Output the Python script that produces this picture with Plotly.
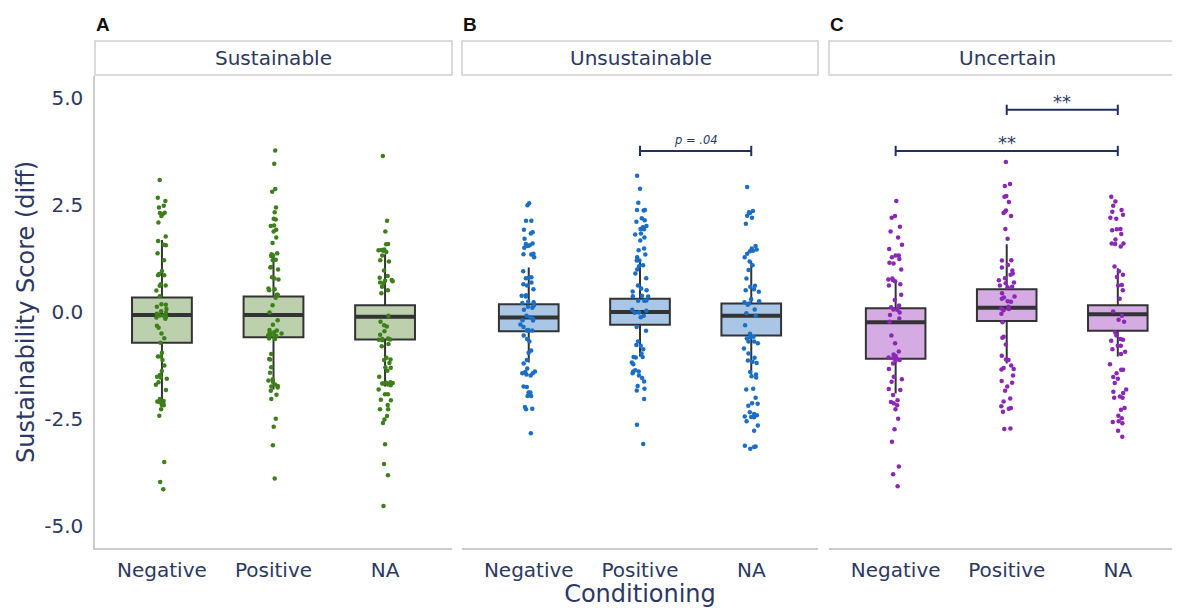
import plotly.graph_objects as go

# ---------------- data ----------------
categories = ["Negative", "Positive", "NA"]
panels = ["Sustainable", "Unsustainable", "Uncertain"]
panel_tags = ["A", "B", "C"]

sus_neg = [3.08, 2.67, 2.59, 2.48, 2.44, 2.32, 2.31, 2.28, 2.24, 2.09, 1.76, 1.66, 1.57, 1.56, 1.37, 1.21,
           0.96, 0.89, 0.86, 0.86, 0.65, 0.62, 0.61, 0.50, 0.37, 0.17, 0.18, 0.12, 0.07, 0.02, -0.02, -0.04,
           -0.08, -0.09, -0.11, -0.13, -0.16, -0.32, -0.37, -0.50, -0.61, -0.72, -0.95, -1.04, -1.04, -1.12,
           -1.25, -1.38, -1.47, -1.51, -1.53, -1.56, -1.64, -1.70, -1.82, -2.03, -2.09, -2.13, -2.08, -2.11,
           -2.17, -2.18, -2.27, -2.42, -3.50, -3.97, -4.14]
sus_pos = [3.77, 3.46, 2.87, 2.81, 2.44, 2.33, 2.18, 2.16, 2.02, 2.01, 1.92, 1.88, 1.74, 1.61, 1.37, 1.35,
           1.31, 1.32, 1.22, 1.21, 1.05, 1.04, 0.99, 0.81, 0.78, 0.76, 0.55, 0.53, 0.51, 0.40, 0.40, 0.33,
           0.16, -0.01, -0.19, -0.30, -0.42, -0.43, -0.47, -0.47, -0.50, -0.52, -0.54, -0.56, -0.56, -0.58,
           -0.62, -0.63, -0.98, -1.10, -1.11, -1.29, -1.42, -1.57, -1.60, -1.63, -1.69, -1.73, -1.74, -1.76,
           -1.84, -1.93, -2.03, -2.49, -2.68, -3.11, -3.89]
sus_na = [3.64, 2.13, 1.88, 1.59, 1.58, 1.46, 1.45, 1.44, 1.43, 1.40, 1.32, 1.21, 1.18, 0.97, 0.84, 0.80,
          0.75, 0.73, 0.72, 0.69, 0.67, 0.59, 0.51, 0.44, -0.09, -0.23, -0.31, -0.34, -0.45, -0.53, -0.62,
          -0.63, -0.64, -0.65, -0.66, -0.75, -0.80, -1.07, -1.11, -1.12, -1.19, -1.29, -1.30, -1.37, -1.51,
          -1.64, -1.65, -1.66, -1.67, -1.67, -1.69, -1.71, -1.81, -1.92, -1.92, -2.05, -2.06, -2.17, -2.27,
          -2.27, -2.43, -2.51, -2.59, -3.09, -3.55, -3.81, -4.53]

uns_neg = [2.54, 2.49, 2.13, 2.13, 1.92, 1.86, 1.83, 1.71, 1.60, 1.59, 1.56, 1.54, 1.50, 1.36, 1.35, 1.34,
           1.28, 0.95, 0.81, 0.80, 0.79, 0.69, 0.65, 0.62, 0.53, 0.39, 0.38, 0.36, 0.24, 0.23, 0.21, 0.15,
           0.12, 0.10, 0.05, -0.09, -0.12, -0.16, -0.19, -0.20, -0.29, -0.35, -0.42, -0.43, -0.43, -0.44,
           -0.55, -0.63, -0.69, -0.90, -0.95, -1.12, -1.20, -1.32, -1.39, -1.40, -1.43, -1.43, -1.46, -1.48,
           -1.74, -1.75, -1.88, -1.88, -1.96, -1.96, -2.22, -2.26, -2.27, -2.83]
uns_pos = [3.18, 2.88, 2.55, 2.38, 2.38, 2.37, 2.19, 2.14, 2.11, 2.01, 1.98, 1.94, 1.93, 1.83, 1.81, 1.74,
           1.67, 1.48, 1.44, 1.34, 1.28, 1.20, 1.20, 1.09, 1.07, 0.99, 0.90, 0.79, 0.62, 0.55, 0.51, 0.48,
           0.38, 0.37, 0.36, 0.27, 0.26, 0.26, 0.05, 0.03, -0.01, -0.02, -0.09, -0.12, -0.35, -0.44, -0.69,
           -0.77, -0.79, -0.87, -0.97, -1.05, -1.05, -1.06, -1.18, -1.22, -1.36, -1.39, -1.39, -1.43, -1.48,
           -1.54, -1.62, -1.73, -1.79, -1.83, -2.03, -2.63, -3.08]
uns_na = [2.92, 2.36, 2.33, 2.31, 2.25, 2.20, 2.06, 1.54, 1.48, 1.46, 1.43, 1.42, 1.36, 1.28, 1.18, 1.09,
          0.98, 0.78, 0.61, 0.59, 0.53, 0.51, 0.47, 0.30, 0.25, 0.23, 0.20, 0.17, 0.06, -0.03, -0.09, -0.31,
          -0.51, -0.58, -0.59, -0.62, -0.69, -0.69, -0.73, -0.85, -0.97, -1.07, -1.13, -1.16, -1.19, -1.40,
          -1.46, -1.50, -1.53, -1.79, -1.81, -2.00, -2.13, -2.14, -2.19, -2.34, -2.38, -2.41, -2.44, -2.45,
          -2.46, -2.55, -2.65, -2.77, -3.12, -3.14, -3.15, -3.19]

unc_neg = [2.59, 2.24, 2.20, 1.99, 1.88, 1.74, 1.57, 1.47, 1.32, 1.32, 1.28, 1.24, 1.15, 1.13, 0.99, 0.78,
           0.76, 0.75, 0.72, 0.65, 0.62, 0.40, 0.28, 0.15, 0.11, 0.06, 0.05, -0.01, -0.07, -0.15, -0.23,
           -0.55, -0.73, -0.92, -0.99, -1.03, -1.06, -1.08, -1.09, -1.12, -1.14, -1.20, -1.33, -1.51, -1.57,
           -1.63, -1.80, -1.82, -1.94, -2.06, -2.10, -2.13, -2.18, -2.27, -2.49, -2.74, -3.03, -3.61, -3.79,
           -4.07]
unc_pos = [3.50, 2.99, 2.94, 2.71, 2.69, 2.57, 2.37, 2.34, 2.31, 2.24, 1.94, 1.71, 1.21, 1.20, 1.10, 1.04,
           0.97, 0.90, 0.87, 0.79, 0.74, 0.69, 0.67, 0.62, 0.59, 0.58, 0.44, 0.36, 0.34, 0.31, 0.25, 0.24,
           0.12, 0.08, 0.07, 0.04, -0.04, -0.24, -0.58, -0.60, -0.76, -1.02, -1.11, -1.12, -1.25, -1.31,
           -1.33, -1.34, -1.48, -1.61, -1.65, -1.74, -1.84, -2.02, -2.09, -2.20, -2.24, -2.26, -2.33, -2.72,
           -2.73]
unc_na = [2.69, 2.58, 2.48, 2.38, 2.34, 2.27, 2.20, 2.18, 1.94, 1.93, 1.91, 1.82, 1.69, 1.60, 1.60, 1.59,
          1.53, 1.06, 0.95, 0.87, 0.82, 0.63, 0.62, 0.51, 0.31, 0.01, -0.09, -0.18, -0.23, -0.48, -0.55,
          -0.63, -0.65, -0.67, -0.79, -0.79, -0.87, -0.93, -0.98, -1.22, -1.35, -1.35, -1.43, -1.52, -1.56,
          -1.66, -1.81, -1.86, -1.89, -1.97, -2.00, -2.00, -2.24, -2.28, -2.42, -2.48, -2.55, -2.57, -2.60,
          -2.77, -2.91]

points = [[sus_neg, sus_pos, sus_na], [uns_neg, uns_pos, uns_na], [unc_neg, unc_pos, unc_na]]

# box summary statistics: per panel, per category
box_q1 = [[-0.72, -0.59, -0.64], [-0.45, -0.30, -0.55], [-1.09, -0.21, -0.44]]
box_median = [[-0.07, -0.07, -0.11], [-0.13, 0.00, -0.09], [-0.24, 0.10, -0.05]]
box_q3 = [[0.34, 0.36, 0.16], [0.18, 0.31, 0.20], [0.09, 0.53, 0.16]]
box_low = [[-2.13, -1.81, -1.74], [-1.18, -1.04, -1.46], [-1.90, -1.20, -1.04]]
box_high = [[1.68, 1.33, 1.35], [1.04, 1.19, 1.19], [0.75, 1.58, 1.02]]

# significance comparisons: (panel index, group a, group b, y level, label)
comparisons = [
    (1, "Positive", "NA", 3.76, "p = .04"),
    (2, "Negative", "NA", 3.76, "**"),
    (2, "Positive", "NA", 4.72, "**"),
]

y_ticks = [5.0, 2.5, 0.0, -2.5, -5.0]
y_tick_text = ["5.0", "2.5", "0.0", "-2.5", "-5.0"]

# ---------------- styles ----------------
fills = ["#bdd0ae", "#a9c6e6", "#d4abe2"]
dots = ["#3d7f1a", "#1b6ec6", "#8b27b6"]
ink = "#2c3862"
font_family = "'DejaVu Sans', Verdana, sans-serif"

OFF = 8  # page body margin of the browser
W, H = 1180 - OFF, 608 - OFF
ml, mr, mt, mb = 95 - OFF, 0, 76 - OFF, 60
pw, ph = W - ml - mr, H - mt - mb
px_dom = [(95, 452), (462, 818), (829, 1180)]  # screen pixels
domains = [[(a - OFF - ml) / pw, min(1.0, (b - OFF - ml) / pw)] for a, b in px_dom]
x_ranges = [[-0.6, 2.6], [-0.6, 2.6], [-0.6, 2.56]]
y_range = [-5.51, 5.51]

pos = list(range(len(categories)))
fig = go.Figure()

for p in range(3):
    xa = "x" if p == 0 else f"x{p+1}"
    ya = "y" if p == 0 else f"y{p+1}"
    fig.add_trace(go.Box(
        x=pos, q1=box_q1[p], median=box_median[p], q3=box_q3[p],
        lowerfence=box_low[p], upperfence=box_high[p],
        boxpoints=False, fillcolor=fills[p],
        line=dict(color="#333333", width=2), whiskerwidth=0,
        xaxis=xa, yaxis=ya, showlegend=False, hoverinfo="skip"))
    fig.add_trace(go.Box(
        x=pos, q1=box_median[p], median=box_median[p], q3=box_median[p],
        lowerfence=box_median[p], upperfence=box_median[p],
        boxpoints=False, fillcolor="rgba(0,0,0,0)",
        line=dict(color="#333333", width=4), whiskerwidth=0,
        xaxis=xa, yaxis=ya, showlegend=False, hoverinfo="skip"))
    xs, ys = [], []
    for i, vals in enumerate(points[p]):
        xs += [pos[i]] * len(vals)
        ys += vals
    fig.add_trace(go.Box(
        x=xs, y=ys, boxpoints="all", jitter=0.3, pointpos=0,
        fillcolor="rgba(0,0,0,0)", line=dict(color="rgba(0,0,0,0)", width=0),
        marker=dict(color=dots[p], size=4.5, line=dict(width=0)),
        xaxis=xa, yaxis=ya, showlegend=False, hoverinfo="skip"))

tick_half = 0.12
for (p, ga, gb, yv, lab) in comparisons:
    xa = "x" if p == 0 else f"x{p+1}"
    ya = "y" if p == 0 else f"y{p+1}"
    x1, x2 = categories.index(ga), categories.index(gb)
    fig.add_trace(go.Scatter(
        x=[x1, x1, None, x1, x2, None, x2, x2],
        y=[yv - tick_half, yv + tick_half, None, yv, yv, None, yv - tick_half, yv + tick_half],
        mode="lines", line=dict(color="#22305e", width=2),
        xaxis=xa, yaxis=ya, showlegend=False, hoverinfo="skip"))
    is_p = lab.startswith("p")
    fig.add_annotation(
        x=(x1 + x2) / 2, y=yv, xref=xa, yref=ya, yanchor="bottom", yshift=2 if is_p else -4,
        text=f"<i>{lab}</i>" if is_p else lab, showarrow=False,
        font=dict(family=font_family, size=11.5 if is_p else 18, color=ink))

layout_axes = {}
for p in range(3):
    xkey = "xaxis" if p == 0 else f"xaxis{p+1}"
    ykey = "yaxis" if p == 0 else f"yaxis{p+1}"
    layout_axes[xkey] = dict(
        domain=domains[p], range=x_ranges[p], anchor="y" if p == 0 else f"y{p+1}",
        tickmode="array", tickvals=pos, ticktext=categories,
        showgrid=False, zeroline=False, showline=True, linecolor="#cccccc", linewidth=1.5,
        ticks="", tickfont=dict(family=font_family, size=20, color=ink), ticklabelstandoff=3)
    layout_axes[ykey] = dict(
        domain=[0, 1], range=y_range, anchor="x" if p == 0 else f"x{p+1}",
        matches=None if p == 0 else "y",
        tickmode="array", tickvals=y_ticks, ticktext=y_tick_text,
        showticklabels=(p == 0), showgrid=False, zeroline=False,
        showline=(p == 0), linecolor="#cccccc", linewidth=1.5, ticks="",
        tickfont=dict(family=font_family, size=20, color=ink), ticklabelstandoff=6)

layout_axes["yaxis"]["title"] = dict(text="Sustainability Score (diff)",
                                     font=dict(family=font_family, size=24, color=ink), standoff=3)
layout_axes["xaxis2"]["title"] = dict(text="Conditioning",
                                      font=dict(family=font_family, size=24, color=ink), standoff=0)

shapes = []
annotations = []
plot_bottom = H - mb  # in figure pixels


def paper_y(screen_y):
    return (plot_bottom - (screen_y - OFF)) / ph


strip_top = paper_y(41)
strip_bot = paper_y(75)
for p in range(3):
    d0, d1 = domains[p]
    full_w = (px_dom[0][1] - px_dom[0][0]) / pw
    shapes.append(dict(type="rect", xref="paper", yref="paper", x0=d0, x1=d1 if p < 2 else d0 + full_w,
                       y0=strip_bot, y1=strip_top, line=dict(color="#d0d0d0", width=1.5),
                       fillcolor="white", layer="below"))
    annotations.append(dict(x=d0 + full_w / 2, y=(strip_top + strip_bot) / 2, xref="paper", yref="paper",
                            text=panels[p], showarrow=False, xanchor="center", yanchor="middle",
                            font=dict(family=font_family, size=20, color=ink)))
    annotations.append(dict(x=d0, y=paper_y(24), xref="paper", yref="paper",
                            text=f"<b>{panel_tags[p]}</b>", showarrow=False, xanchor="left",
                            yanchor="middle", xshift=-1,
                            font=dict(family="Liberation Sans, Arial, sans-serif", size=19, color="#111111")))

fig.update_layout(
    width=W, height=H, margin=dict(l=ml, r=mr, t=mt, b=mb),
    paper_bgcolor="white", plot_bgcolor="white",
    boxmode="overlay", boxgap=0.234, showlegend=False,
    shapes=shapes, annotations=list(fig.layout.annotations) + annotations,
    **layout_axes)

fig.write_html("out.html")
